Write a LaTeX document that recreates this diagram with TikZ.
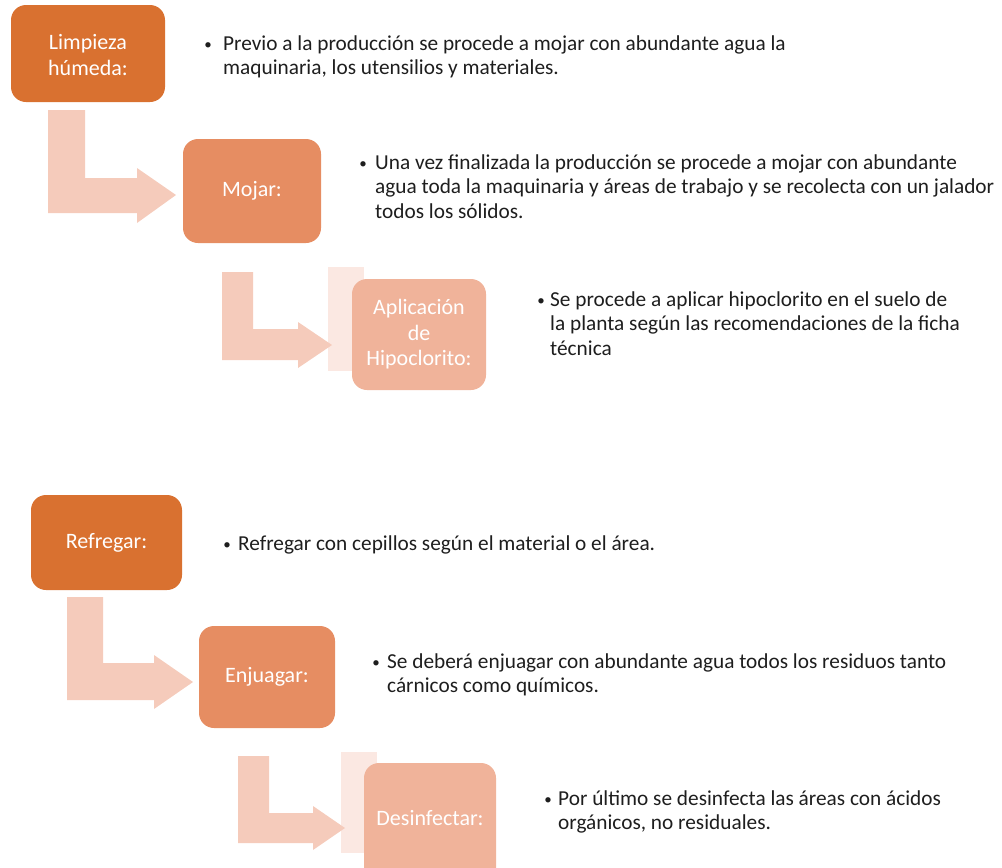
\documentclass[tikz,border=0pt]{standalone}
\usepackage{fontspec}
\setmainfont{Carlito}
\definecolor{dark}{HTML}{D97130}
\definecolor{mid}{HTML}{E68D62}
\definecolor{light}{HTML}{F0B39A}
\definecolor{arrowc}{HTML}{F5CBBB}
\definecolor{faint}{HTML}{FBE8E2}
\definecolor{txt}{HTML}{1E1E1E}
\tikzset{
  box/.style={inner sep=0pt, align=center, text=white,
    font=\fontsize{22}{25.5}\selectfont},
  bullettext/.style={anchor=base west, inner sep=0pt, align=left, text=txt,
    font=\fontsize{21.3}{24.6}\selectfont},
  bul/.style={anchor=base, inner sep=0pt, text=txt, font=\fontsize{15}{18}\selectfont},
  bent/.style={fill=arrowc, draw=none},
  bar/.style={fill=faint, draw=none},
  panel/.style={rounded corners=15pt}
}
\begin{document}
\begin{tikzpicture}[x=1pt,y=-1pt]
\useasboundingbox (0,0) rectangle (1002,868);
\clip (0,0) rectangle (1002,868);
% faint bars
\fill[bar] (328,267) rectangle (364,371);
\fill[bar] (341,752) rectangle (377,853);
% bent arrows
\fill[bent] (48,110) -- (85,110) -- (85,178) -- (137,178) -- (137,168) -- (176,195) -- (137,223) -- (137,213) -- (48,213) -- cycle;
\fill[bent] (222,272) -- (253,272) -- (253,329) -- (298,329) -- (298,322) -- (332,345) -- (298,368) -- (298,360) -- (222,360) -- cycle;
\fill[bent] (67,597) -- (103,597) -- (103,663) -- (154,663) -- (154,655) -- (193,682) -- (154,709) -- (154,700) -- (67,700) -- cycle;
\fill[bent] (238,756) -- (269,756) -- (269,813) -- (313,813) -- (313,806) -- (345,828) -- (313,850) -- (313,843) -- (238,843) -- cycle;
% boxes
\path[panel, fill=dark] (11,5) rectangle (165,102);
\node[box] (b1) at (88,55) {Limpieza\\húmeda:};
\path[panel, fill=mid] (183,139) rectangle (321,243);
\node[box] (b2) at (252,191) {Mojar:};
\path[panel, fill=light] (352,279) rectangle (486,390);
\node[box] (b3) at (419,334.5) {Aplicación\\de\\Hipoclorito:};
\path[panel, fill=dark] (31,495) rectangle (182,590);
\node[box] (b4) at (106.5,542.5) {Refregar:};
\path[panel, fill=mid] (199,626) rectangle (335,728);
\node[box] (b5) at (267,677) {Enjuagar:};
\path[panel, fill=light] (364,763) rectangle (496,895);
\node[box] (b6) at (430,818) {Desinfectar:};
% bullet texts (anchor = baseline of last line)
\node[bul] (d1) at (208,49) {\textbullet};
\node[bullettext] (t1) at (223,74.6) {Previo a la producción se procede a mojar con abundante agua la\\maquinaria, los utensilios y materiales.};
\node[bul] (d2) at (363,168) {\textbullet};
\node[bullettext] (t2) at (375,218.2) {Una vez finalizada la producción se procede a mojar con abundante\\agua toda la maquinaria y áreas de trabajo y se recolecta con un jalador\\todos los sólidos.};
\node[bul] (d3) at (541,305) {\textbullet};
\node[bullettext] (t3) at (550,355.2) {Se procede a aplicar hipoclorito en el suelo de\\la planta según las recomendaciones de la ficha\\técnica};
\node[bul] (d4) at (227,549) {\textbullet};
\node[bullettext] (t4) at (238,550) {Refregar con cepillos según el material o el área.};
\node[bul] (d5) at (376,667) {\textbullet};
\node[bullettext] (t5) at (387,692.6) {Se deberá enjuagar con abundante agua todos los residuos tanto\\cárnicos como químicos.};
\node[bul] (d6) at (548,804) {\textbullet};
\node[bullettext] (t6) at (558,829.6) {Por último se desinfecta las áreas con ácidos\\orgánicos, no residuales.};
\end{tikzpicture}
\end{document}
